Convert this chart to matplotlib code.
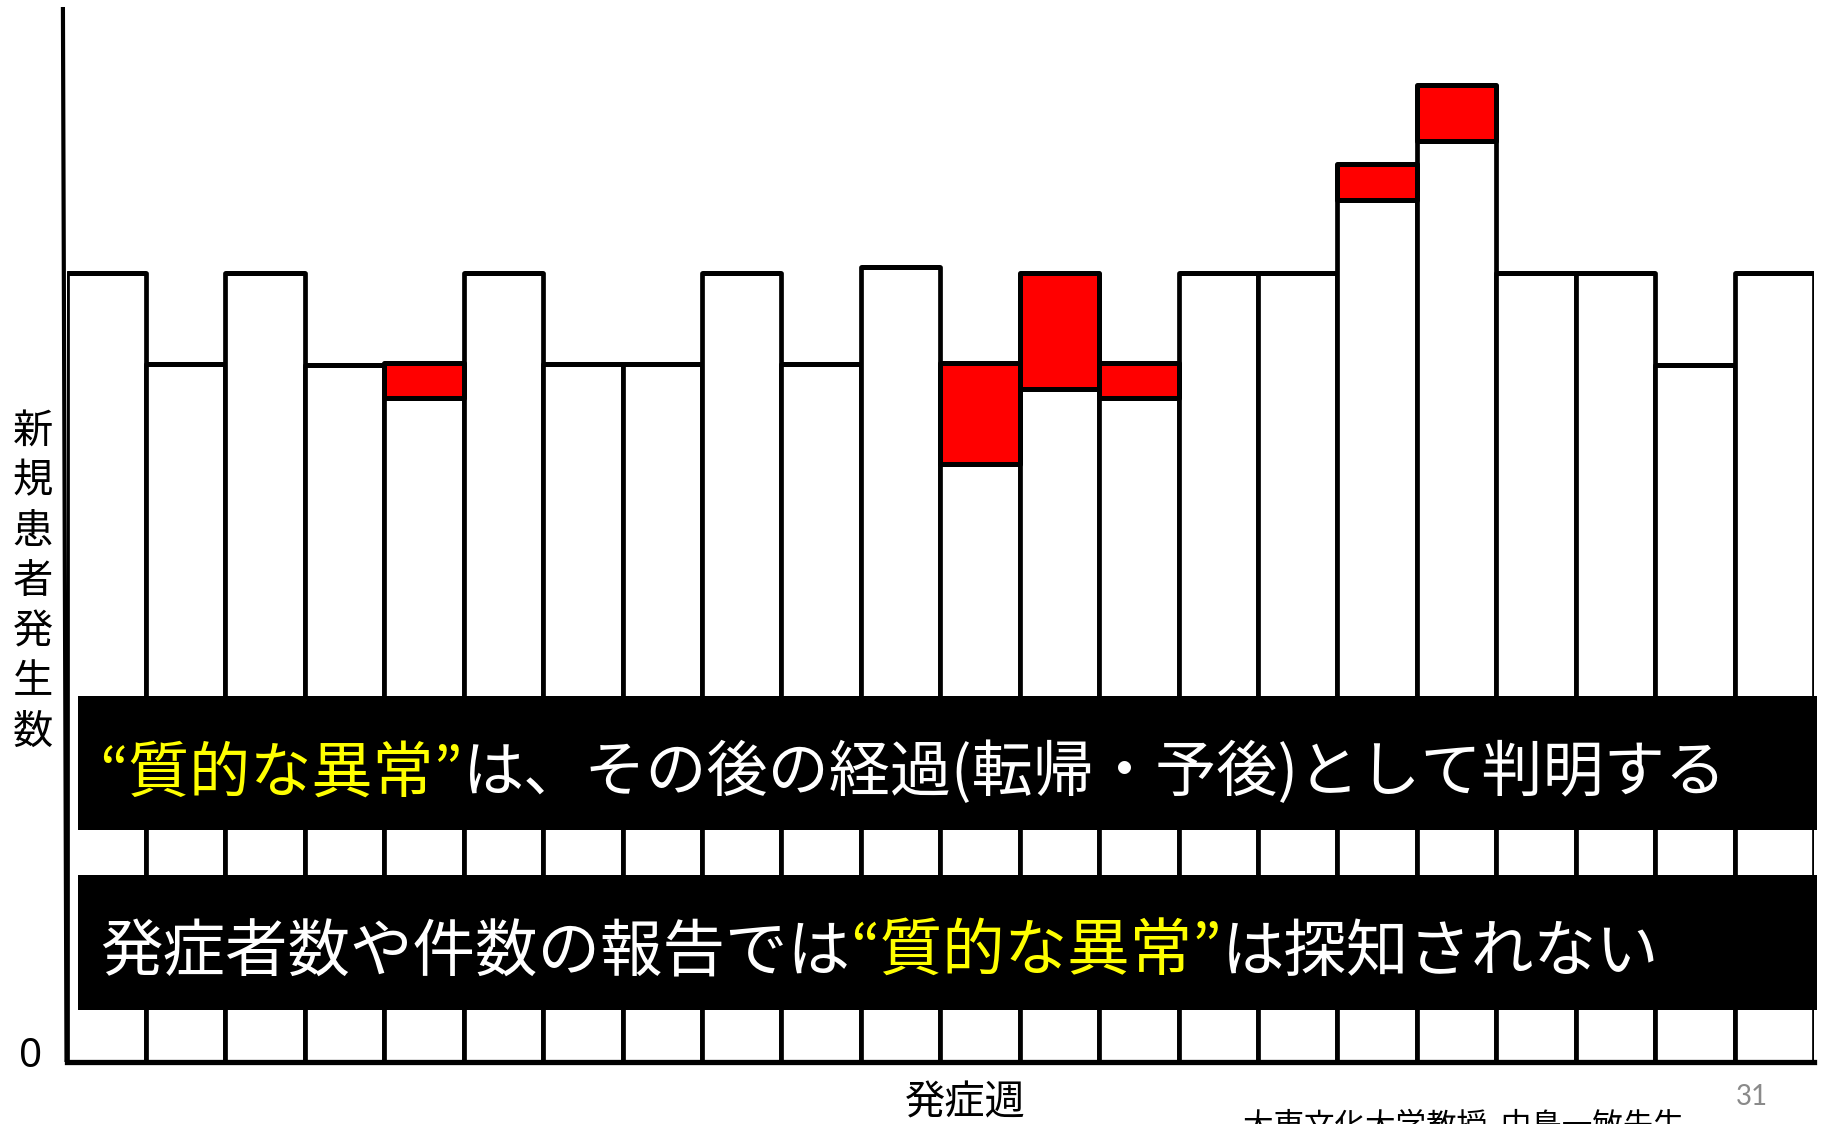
import numpy as np
import matplotlib
matplotlib.use("Agg")
import matplotlib.pyplot as plt
from matplotlib.patches import Rectangle

plt.rcParams['font.family'] = ['Noto Sans CJK JP', 'DejaVu Sans']

# weekly new cases: white = usual part, red = part found abnormal later
weeks = np.arange(1, 23)
base = [9.0, 7.96, 9.0, 7.95, 7.57, 9.0, 7.96, 7.96, 9.0, 7.96, 9.07,
        6.82, 7.67, 7.57, 9.0, 9.0, 9.83, 10.5, 9.0, 9.0, 7.95, 9.0]
abnormal = [0, 0, 0, 0, 0.40, 0, 0, 0, 0, 0, 0,
            1.15, 1.33, 0.40, 0, 0, 0.41, 0.64, 0, 0, 0, 0]

ylab = "新規患者発生数"
xlab = "発症週"
line1 = [("“質的な異常”", "#ffff00"), ("は、その後の経過(転帰・予後)として判明する", "white")]
line2 = [("発症者数や件数の報告では", "white"), ("“質的な異常”", "#ffff00"), ("は探知されない", "white")]
credit = "大東文化大学教授  中島一敏先生"

W, H = 1828, 1124
fig = plt.figure(figsize=(W / 100, H / 100), dpi=100)
ax = fig.add_axes([66.5 / W, 62 / H, (1814 - 66.5) / W, (1062 - 7) / H])

ax.bar(weeks, base, width=1.0, color="white", edgecolor="black", linewidth=3.4, joinstyle="round")
ax.bar(weeks, abnormal, bottom=base, width=1.0, color="#ff0000", edgecolor="black",
       linewidth=3.6, joinstyle="round")

ax.set_xlim(0.5, 22.5)
ax.set_ylim(0, 12.03)
ax.set_xticks([])
ax.set_yticks([])
for s in ["top", "right", "left"]:
    ax.spines[s].set_visible(False)
ax.spines["bottom"].set_linewidth(3.8)
# y axis, leaning a little to the left at the top
ax.plot([0.5, 0.455], [0, 12.03], color="black", lw=3, clip_on=False, solid_capstyle="butt")

# black banners with the messages
for y0, y1 in [(696, 830), (875, 1010)]:
    ax.add_patch(Rectangle((78 / W, 1 - y1 / H), (1817 - 78) / W, (y1 - y0) / H,
                           transform=fig.transFigure, facecolor="black",
                           edgecolor="none", zorder=5, clip_on=False))


def chain(parts, x, y, size):
    # pieces of one line, each starting where the previous one ends
    t = ax.text(x, y, parts[0][0], color=parts[0][1], fontsize=size,
                ha="left", va="center", zorder=6, transform=fig.transFigure)
    for s, c in parts[1:]:
        t = ax.annotate(s, xy=(1, 0), xycoords=t, color=c, fontsize=size,
                        ha="left", va="bottom", zorder=6, annotation_clip=False)
    return t


chain(line1, 99 / W, 1 - 774 / H, 44)
chain(line2, 100 / W, 1 - 953 / H, 45)

# y label written top to bottom
for i, ch in enumerate(ylab):
    fig.text(33 / W, 1 - (431 + 50.2 * i) / H, ch, fontsize=29, ha="center", va="center")
fig.text(31 / W, 1 - 1057 / H, "0", fontsize=29, ha="center", va="center",
         family=["Noto Sans", "DejaVu Sans"])
fig.text(965 / W, 1 - 1103 / H, xlab, fontsize=29, ha="center", va="center")
fig.text(1463 / W, 1 - 1134 / H, credit, fontsize=22, ha="center", va="baseline")
fig.text(1752 / W, 1 - 1097 / H, "31", fontsize=20, ha="center", va="center",
         color="#8a8a8a", family=["Lato", "DejaVu Sans"])

fig.savefig("out.png", dpi=100)
